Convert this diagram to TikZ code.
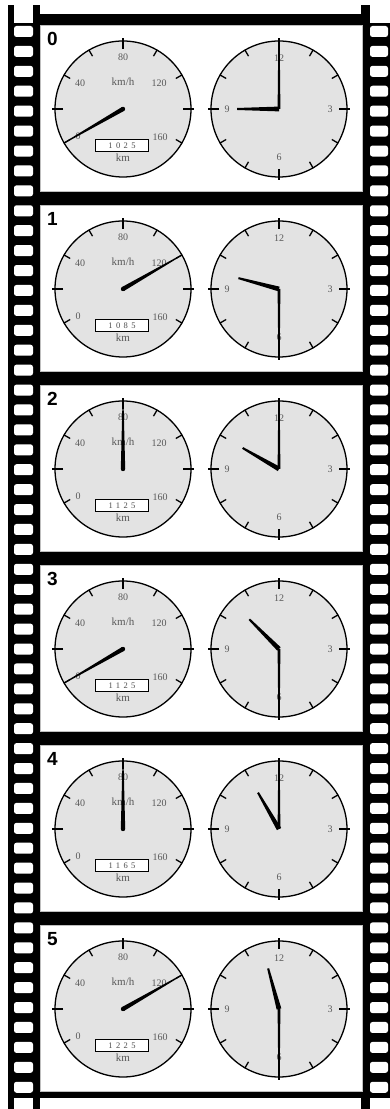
\documentclass[tikz,border=0pt]{standalone}
\usepackage{fontspec}
\setmainfont{Liberation Serif}
\newfontfamily\chiffre{Liberation Sans}

\begin{document}
\begin{tikzpicture}[x=1pt, y=1pt,
    cadran/.style={draw=black, line width=1.3pt, fill=gray!22},
    grad/.style={line width=1.3pt},
    lbl/.style={text=black!65, inner sep=0pt, font=\fontsize{10}{10}\selectfont},
    unite/.style={text=black!65, inner sep=0pt, font=\fontsize{11}{11}\selectfont},
    compteur/.style={draw=black, line width=1pt, fill=white, minimum width=53pt,
      minimum height=12pt, inner sep=0pt, text=black!70, font=\fontsize{8.5}{8.5}\selectfont},
    trou/.style={fill=white, rounded corners=2.5pt},
    image/.style={fill=white, draw=gray!50, line width=0.4pt}]

  \useasboundingbox (0,0) rectangle (390,1109);

  % --- BANDE DE FILM ---
  \fill (33,11) rectangle (370,1095); % fond entre les images
  \fill (8,11) rectangle (40,1086); % bord gauche
  \fill (361,11) rectangle (390,1086); % bord droit
  \fill (8,0) rectangle (14,1104); % traits qui depassent
  \fill (33,0) rectangle (40,1104);
  \fill (361,0) rectangle (370,1104);

  % Perforations
  \foreach \j in {0,...,53} {
    \pgfmathsetmacro\yb{1072-19.92*\j}
    \fill[trou] (14,\yb) rectangle (33,\yb+11);
    \fill[trou] (370,\yb) rectangle (388,\yb+11);
  }

  % --- LES SIX IMAGES ---
  \foreach \nb/\vit/\odo/\hr/\mn in {0/0/1025/9/0, 1/120/1085/9/30, 2/80/1125/10/0,
      3/0/1125/10/30, 4/80/1165/11/0, 5/120/1225/11/30} {
    \begin{scope}[shift={(0,-180*\nb)}]
      \fill[image] (40,918) rectangle (362,1084);
      \node[anchor=north west, inner sep=0pt, font={\chiffre\bfseries\fontsize{19}{19}\selectfont}]
        (num\nb) at (47,1077) {\nb};

      % Compteur de vitesse
      \begin{scope}[shift={(123,1000)}]
        \filldraw[cadran] (0,0) circle (68pt);
        \foreach \a in {-30,30,60,120,150,210} \draw[grad] (\a:61) -- (\a:68.5);
        \foreach \a in {0,90,180} \draw[grad] (\a:60) -- (\a:71);
        \node[lbl] (sa\nb) at (-45,-27) {0};
        \node[lbl] (sb\nb) at (-43,26) {40};
        \node[lbl] (sc\nb) at (0,52) {80};
        \node[lbl] (sd\nb) at (36,26) {120};
        \node[lbl] (se\nb) at (37,-28) {160};
        \node[unite] (kmh\nb) at (0,27) {km/h};
        \node[compteur] (odo\nb) at (-1,-37) {\addfontfeatures{LetterSpace=40}\odo};
        \node[unite] (km\nb) at (0,-49) {km};
        % Aiguille
        \pgfmathsetmacro\av{210-1.5*\vit}
        \fill[rotate=\av] (0,-2.2) -- (68,-0.5) -- (68,0.5) -- (0,2.2) -- cycle;
        \fill (0,0) circle (2.2pt);
      \end{scope}

      % Horloge
      \begin{scope}[shift={(279,1000)}]
        \filldraw[cadran] (0,0) circle (68pt);
        \foreach \a in {30,60,120,150,210,240,300,330} \draw[grad] (\a:61) -- (\a:68.5);
        \foreach \a in {0,90,180,270} \draw[grad] (\a:60) -- (\a:71);
        \node[lbl] (ha\nb) at (0,51) {12};
        \node[lbl] (hb\nb) at (51,0) {3};
        \node[lbl] (hc\nb) at (0,-48) {6};
        \node[lbl] (hd\nb) at (-52,0) {9};
        % Aiguilles
        \pgfmathsetmacro\am{90-6*\mn}
        \pgfmathsetmacro\ah{90-30*(\hr+\mn/60)}
        \fill[rotate=\am] (0,-1.4) -- (68,-0.7) -- (68,0.7) -- (0,1.4) -- cycle;
        \fill[rotate=\ah] (0,-2.4) -- (42,-1) -- (42,1) -- (0,2.4) -- cycle;
      \end{scope}
    \end{scope}
  }
\end{tikzpicture}
\end{document}
